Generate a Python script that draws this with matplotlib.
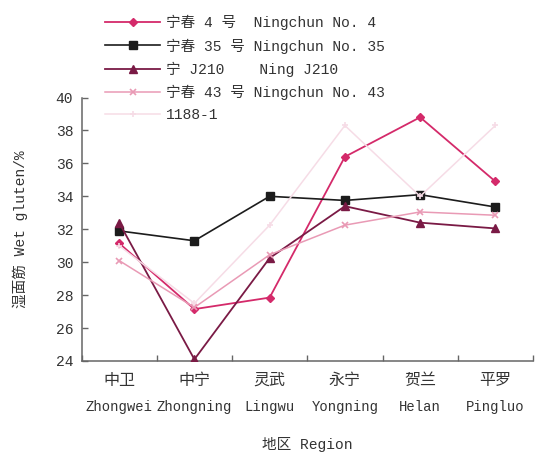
import matplotlib
matplotlib.use("Agg")
import matplotlib.pyplot as plt
from matplotlib.transforms import blended_transform_factory

regions_cn = ["中卫", "中宁", "灵武", "永宁", "贺兰", "平罗"]
regions_en = ["Zhongwei", "Zhongning", "Lingwu", "Yongning", "Helan", "Pingluo"]

labels = ["宁春 4 号  Ningchun No. 4",
          "宁春 35 号 Ningchun No. 35",
          "宁 J210    Ning J210",
          "宁春 43 号 Ningchun No. 43",
          "1188-1"]

ningchun4 = [31.15, 27.15, 27.85, 36.4, 38.8, 34.9]
ningchun35 = [31.9, 31.3, 34.0, 33.75, 34.1, 33.35]
ningj210 = [32.4, 24.1, 30.25, 33.4, 32.4, 32.05]
ningchun43 = [30.1, 27.25, 30.45, 32.25, 33.05, 32.85]
s1188 = [31.0, 27.5, 32.25, 38.3, 34.0, 38.3]

yticks = [24, 26, 28, 30, 32, 34, 36, 38, 40]

FONT = ["Liberation Mono", "Noto Sans CJK SC", "DejaVu Sans"]
plt.rcParams["font.family"] = FONT

fig = plt.figure(figsize=(5.38, 4.58), dpi=100)
ax = fig.add_axes([81.5/538, 1-361/458, (533-81.5)/538, (361-97.5)/458])

xs = [i + 0.5 for i in range(len(regions_cn))]
series = [ningchun4, ningchun35, ningj210, ningchun43, s1188]
styles = [
    dict(color="#d42a6a", marker="D", ms=4.5, lw=1.3),
    dict(color="#1c1c1c", marker="s", ms=6, lw=1.2),
    dict(color="#7a1a45", marker="^", ms=6, lw=1.3),
    dict(color="#e99ab5", marker="x", ms=5, lw=1.1, mew=1.2),
    dict(color="#f6dce6", marker="+", ms=5, lw=1.1, mew=1.2),
]
order = [4, 3, 1, 2, 0]
handles = [None]*5
for i in order:
    h, = ax.plot(xs, series[i], label=labels[i], zorder=3+i, **styles[i])
    handles[i] = h

ax.set_xlim(0, 6)
ax.set_ylim(24, 40)
ax.set_yticks(yticks)
ax.set_yticklabels([str(v) for v in yticks], fontsize=10.5, color="#333333")
ax.set_xticks(range(0, 7))
ax.set_xticklabels([])
ax.tick_params(axis="y", direction="in", length=4, width=1, color="#666666", pad=6)
ax.tick_params(axis="x", direction="in", length=4, width=1, color="#666666")
for s in ["top", "right"]:
    ax.spines[s].set_visible(False)
for s in ["left", "bottom"]:
    ax.spines[s].set_color("#666666")
    ax.spines[s].set_linewidth(1.1)

tr = blended_transform_factory(ax.transData, ax.transAxes)
ah = 361 - 97.5
for x, cn, en in zip(xs, regions_cn, regions_en):
    ax.text(x, -19/ah, cn, transform=tr, ha="center", va="center", fontsize=11.5, color="#333333")
    ax.text(x, -46/ah, en, transform=tr, ha="center", va="center", fontsize=10, color="#333333")

fig.text(307/538, 1-445/458, "地区 Region", ha="center", va="center", fontsize=10.5, color="#333333")
fig.text(20/538, 1-229/458, "湿面筋 Wet gluten/%", ha="center", va="center", rotation=90,
         fontsize=10.5, color="#333333")

leg = fig.legend(handles=handles, labels=labels, loc="upper left",
                 bbox_to_anchor=(105/538, 1-15/458), frameon=False,
                 fontsize=10.5, handlelength=3.8, handletextpad=0.35,
                 labelspacing=0.55, borderpad=0, borderaxespad=0)
for t in leg.get_texts():
    t.set_color("#333333")

fig.savefig("out.png", dpi=100)
